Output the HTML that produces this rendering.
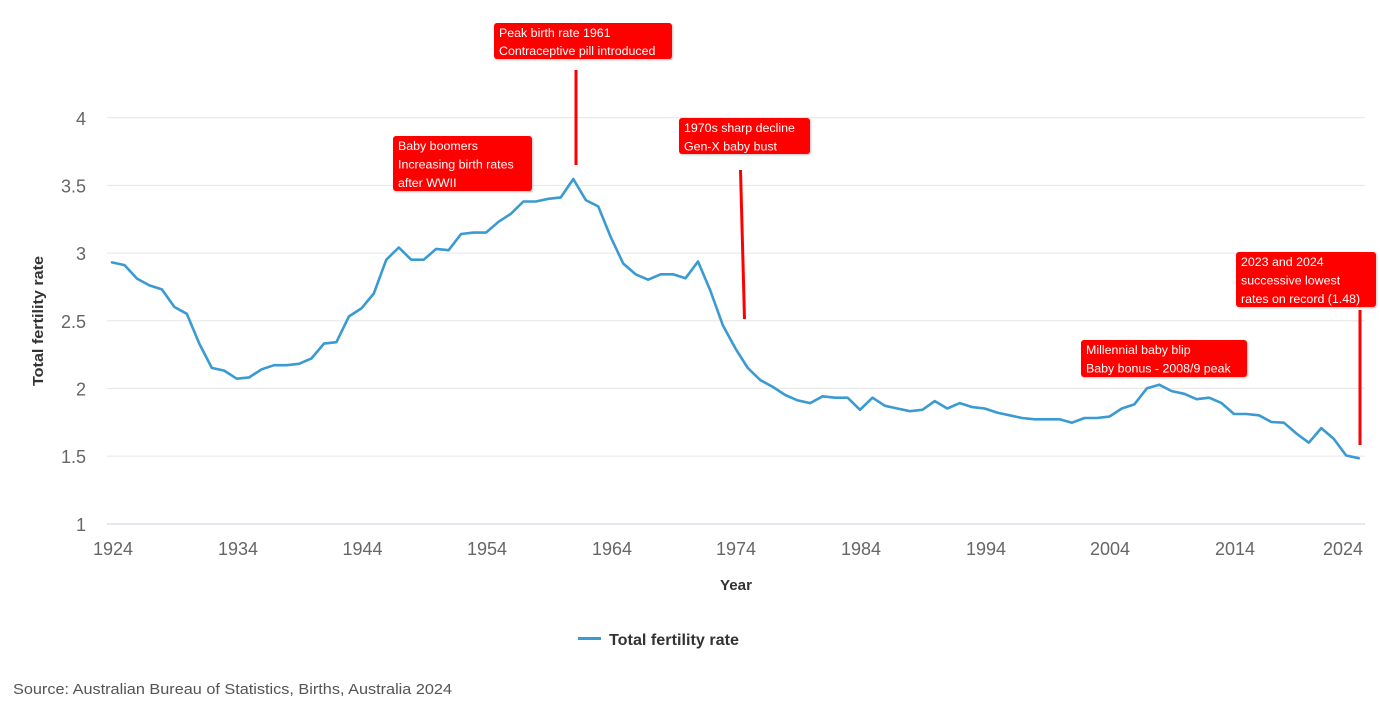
<!DOCTYPE html>
<html><head><meta charset="utf-8"><style>
html,body{margin:0;padding:0;background:#fff;}
svg{display:block;}
text{font-family:"Liberation Sans",Arial,sans-serif;}
</style></head><body>
<svg width="1380" height="704" viewBox="0 0 1380 704" xmlns="http://www.w3.org/2000/svg">
<defs>
<filter id="sh" x="-10%" y="-10%" width="130%" height="140%">
<feDropShadow dx="1" dy="1" stdDeviation="1" flood-color="#000" flood-opacity="0.25"/>
</filter>
</defs>
<rect width="1380" height="704" fill="#fff"/>
<!-- gridlines -->
<g stroke="#e6e6e6" stroke-width="1">
<line x1="107" y1="117.7" x2="1365" y2="117.7"/>
<line x1="107" y1="185.4" x2="1365" y2="185.4"/>
<line x1="107" y1="253.1" x2="1365" y2="253.1"/>
<line x1="107" y1="320.8" x2="1365" y2="320.8"/>
<line x1="107" y1="388.4" x2="1365" y2="388.4"/>
<line x1="107" y1="456.1" x2="1365" y2="456.1"/>
</g>
<line x1="107" y1="524" x2="1365" y2="524" stroke="#d6dbe3" stroke-width="1.2"/>
<!-- y labels -->
<g fill="#666" font-size="18" text-anchor="end">
<text x="86" y="125">4</text>
<text x="86" y="192.5">3.5</text>
<text x="86" y="260">3</text>
<text x="86" y="328">2.5</text>
<text x="86" y="395.5">2</text>
<text x="86" y="463">1.5</text>
<text x="86" y="531">1</text>
</g>
<!-- x labels -->
<g fill="#666" font-size="18" text-anchor="middle">
<text x="113" y="555">1924</text>
<text x="238" y="555">1934</text>
<text x="362.5" y="555">1944</text>
<text x="487" y="555">1954</text>
<text x="612" y="555">1964</text>
<text x="736" y="555">1974</text>
<text x="861" y="555">1984</text>
<text x="986" y="555">1994</text>
<text x="1110" y="555">2004</text>
<text x="1235" y="555">2014</text>
<text x="1363" y="555" text-anchor="end">2024</text>
</g>
<!-- axis titles -->
<text x="736" y="590" font-size="15" font-weight="bold" fill="#333" text-anchor="middle" textLength="32" lengthAdjust="spacingAndGlyphs">Year</text>
<text transform="translate(43,321) rotate(-90)" font-size="15" font-weight="bold" fill="#333" text-anchor="middle" textLength="130" lengthAdjust="spacingAndGlyphs">Total fertility rate</text>
<!-- series -->
<polyline fill="none" stroke="#3a9ad2" stroke-width="2.6" stroke-linejoin="round" stroke-linecap="round" points="
112.0,262.4 124.5,265.1 137.0,278.6 149.4,285.4 161.9,289.4 174.4,307.0 186.8,313.8 199.3,343.6 211.8,367.9 224.2,370.6 236.7,378.7 249.2,377.4 261.6,369.3 274.1,365.2 286.6,365.2 299.0,363.8 311.5,358.4 324.0,343.6 336.4,342.2 348.9,316.5 361.4,308.4 373.8,293.5 386.3,259.7 398.8,247.5 411.2,259.7 423.7,259.7 436.2,248.9 448.6,250.2 461.1,234.0 473.6,232.6 486.0,232.6 498.5,221.8 511.0,213.7 523.4,201.5 535.9,201.5 548.4,198.8 560.8,197.4 573.3,179.0 585.8,200.1 598.2,206.4 610.7,237.0 623.2,263.5 635.6,274.3 648.1,279.7 660.6,274.3 673.0,274.3 685.5,278.3 698.0,261.5 710.4,290.8 722.9,325.4 735.4,348.4 747.8,368.0 760.3,380.1 772.8,386.9 785.2,395.0 797.7,400.4 810.2,403.1 822.6,396.3 835.1,397.7 847.6,397.7 860.0,409.8 872.5,397.7 885.0,405.8 897.4,408.5 909.9,411.2 922.4,409.8 934.8,401.1 947.3,408.5 959.8,403.1 972.2,407.1 984.7,408.5 997.2,412.6 1009.6,415.3 1022.1,418.0 1034.6,419.3 1047.0,419.3 1059.5,419.3 1072.0,422.7 1084.4,418.0 1096.9,418.0 1109.4,416.6 1121.8,408.5 1134.3,404.4 1146.8,388.4 1159.2,384.7 1171.7,391.1 1184.2,393.8 1196.6,399.2 1209.1,397.7 1221.6,403.1 1234.0,414.0 1246.5,414.0 1259.0,415.3 1271.4,422.0 1283.9,422.7 1296.4,433.5 1308.8,442.7 1321.3,428.1 1333.8,438.9 1346.2,455.5 1358.7,458.2"/>
<!-- annotation lines -->
<g stroke="#ff0000" stroke-width="3" stroke-linecap="butt">
<line x1="576" y1="70" x2="576" y2="165"/>
<line x1="740.5" y1="170" x2="744.5" y2="319"/>
<line x1="1360" y1="310" x2="1360" y2="445"/>
</g>
<!-- annotation boxes -->
<g filter="url(#sh)" fill="#ff0000">
<rect x="494" y="23" width="178" height="36" rx="3"/>
<rect x="393" y="136" width="139" height="55" rx="3"/>
<rect x="679" y="118" width="131" height="36" rx="3"/>
<rect x="1081" y="340" width="166" height="37" rx="3"/>
<rect x="1236" y="252" width="140" height="55" rx="3"/>
</g>
<g fill="#fff" font-size="12.4">
<text x="499" y="37">Peak birth rate 1961</text>
<text x="499" y="55">Contraceptive pill introduced</text>
<text x="398" y="150">Baby boomers</text>
<text x="398" y="168.5">Increasing birth rates</text>
<text x="398" y="187">after WWII</text>
<text x="684" y="132">1970s sharp decline</text>
<text x="684" y="150.5">Gen-X baby bust</text>
<text x="1086" y="354">Millennial baby blip</text>
<text x="1086" y="372.5">Baby bonus - 2008/9 peak</text>
<text x="1241" y="266">2023 and 2024</text>
<text x="1241" y="284.5">successive lowest</text>
<text x="1241" y="303">rates on record (1.48)</text>
</g>
<!-- legend -->
<line x1="578" y1="638.5" x2="601" y2="638.5" stroke="#3a9ad2" stroke-width="3"/>
<text x="609" y="645" font-size="16" font-weight="bold" fill="#333" textLength="130" lengthAdjust="spacingAndGlyphs">Total fertility rate</text>
<!-- source -->
<text x="13" y="694" font-size="15" fill="#555" textLength="439" lengthAdjust="spacingAndGlyphs">Source: Australian Bureau of Statistics, Births, Australia 2024</text>
</svg>
</body></html>
